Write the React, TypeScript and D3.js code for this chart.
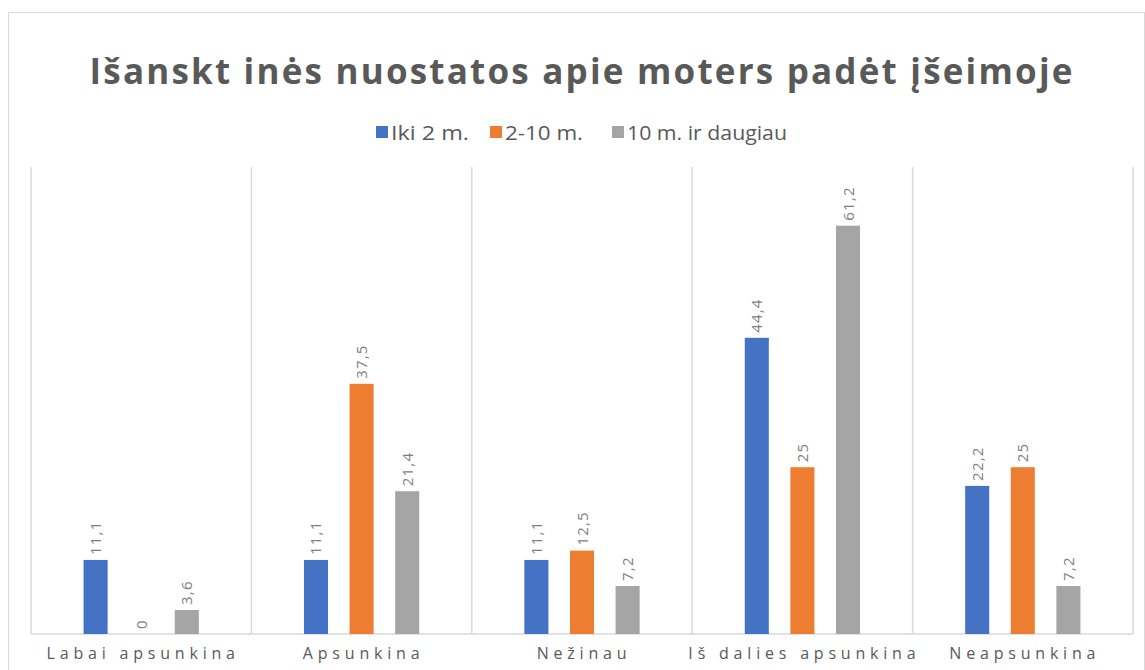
import React from "react";
import * as d3 from "d3";

const categories = ["Labai apsunkina", "Apsunkina", "Nežinau", "Iš dalies apsunkina", "Neapsunkina"];
const seriesNames = ["Iki 2 m.", "2-10 m.", "10 m. ir daugiau"];
const seriesColors = ["#4472C4", "#ED7D31", "#A5A5A5"];
const iki2 = [11.1, 11.1, 11.1, 44.4, 22.2];
const m2to10 = [0, 37.5, 12.5, 25, 25];
const m10plus = [3.6, 21.4, 7.2, 61.2, 7.2];
const seriesValues = [iki2, m2to10, m10plus];
const title = "Išanskt inės nuostatos apie moters padėt įšeimoje";

const W = 1145;
const H = 670;
const plotLeft = 31;
const plotRight = 1133;
const plotTop = 167;
const plotBottom = 634;

export default function App() {
  const x0 = d3.scaleBand<string>().domain(categories).range([plotLeft, plotRight]).padding(0);
  const bw = x0.bandwidth();
  const x1 = d3
    .scaleBand<string>()
    .domain(seriesNames)
    .range([bw * 0.2385, bw * 0.7615])
    .paddingInner(0.4725)
    .paddingOuter(0);
  const y = d3.scaleLinear().domain([0, 70]).range([plotBottom, plotTop]);
  const fmt = (v: number) => String(v).replace(".", ",");
  const grid = "#d9d9d9";
  const textCol = "#595959";
  const font = "'Open Sans', 'Noto Sans', sans-serif";

  const legendX = [376, 490, 612];
  const legendLen = [78, 78, 160];

  return (
    <svg width={W} height={H} style={{ position: "absolute", left: 0, top: 0, background: "#fff" }} fontFamily={font}>
      <rect x={8.5} y={12.5} width={W - 9} height={H} fill="#fff" stroke={grid} />
      <text
        x={581}
        y={84}
        textAnchor="middle"
        fontSize={35}
        fontWeight="bold"
        fill={textCol}
        textLength={983}
        lengthAdjust="spacing"
      >
        {title}
      </text>
      {seriesNames.map((s, i) => (
        <g key={s}>
          <rect x={legendX[i]} y={126} width={12} height={12} fill={seriesColors[i]} />
          <text
            x={legendX[i] + 15}
            y={140}
            fontSize={20}
            fill={textCol}
            textLength={legendLen[i]}
            lengthAdjust="spacingAndGlyphs"
          >
            {s}
          </text>
        </g>
      ))}
      {categories.map((c) => (
        <line key={"g" + c} x1={x0(c)!} x2={x0(c)!} y1={plotTop} y2={plotBottom} stroke={grid} strokeWidth={1.5} />
      ))}
      <line x1={plotRight} x2={plotRight} y1={plotTop} y2={plotBottom} stroke={grid} strokeWidth={1.5} />
      <line x1={plotLeft} x2={plotRight} y1={plotBottom} y2={plotBottom} stroke={grid} strokeWidth={1.5} />
      {categories.map((c, ci) => (
        <g key={c} transform={`translate(${x0(c)},0)`}>
          {seriesNames.map((s, si) => {
            const v = seriesValues[si][ci];
            const bx = x1(s)!;
            const top = y(v);
            const cx = bx + x1.bandwidth() / 2;
            return (
              <g key={s}>
                <rect x={bx} y={top} width={x1.bandwidth()} height={plotBottom - top} fill={seriesColors[si]} />
                <text
                  transform={`translate(${cx + 5.5},${top - 5}) rotate(-90)`}
                  fontSize={15}
                  fill="#7f7f7f"
                  letterSpacing={1.2}
                >
                  {fmt(v)}
                </text>
              </g>
            );
          })}
          <text x={bw / 2 + 2} y={659} textAnchor="middle" fontSize={16} fill={textCol} letterSpacing={4.8}>
            {c}
          </text>
        </g>
      ))}
    </svg>
  );
}
